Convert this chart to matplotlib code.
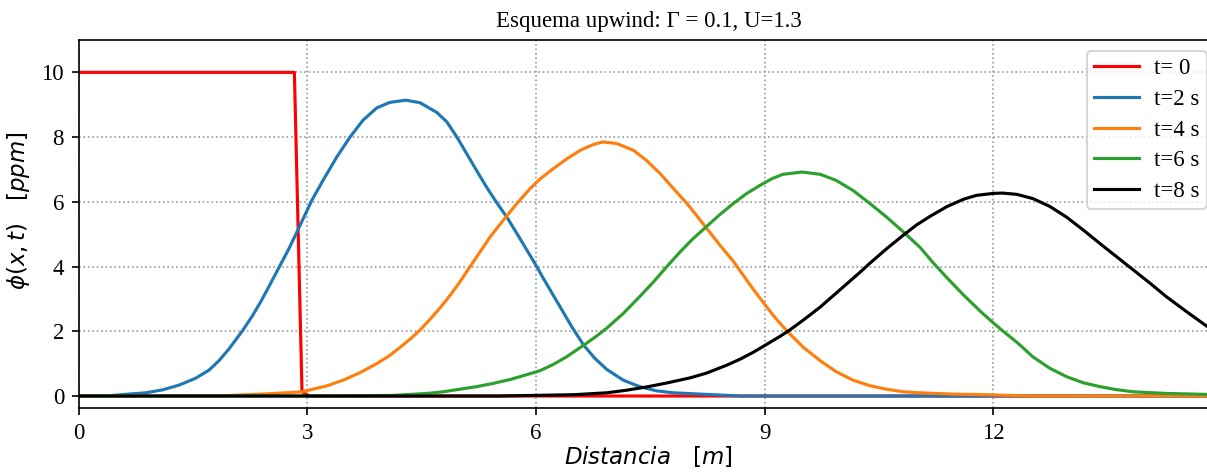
import matplotlib
matplotlib.use("Agg")
import matplotlib.pyplot as plt

plt.rcParams['font.family'] = ['Liberation Serif', 'DejaVu Serif']
plt.rcParams['font.size'] = 11

# Concentration profiles phi(x, t) [ppm] vs distance x [m]
x_t0 = [0.0, 2.83, 2.93, 3.03, 14.95]
phi_t0 = [10.0, 10.0, 0.13, 0.0, 0.0]

x_t2 = [0.0, 0.40, 0.66, 0.88, 1.10, 1.32, 1.535, 1.71, 1.84, 1.97, 2.15, 2.28,
        2.39, 2.50, 2.63, 2.76, 2.87, 2.98, 3.06, 3.21, 3.385, 3.56, 3.73, 3.91,
        4.08, 4.29, 4.48, 4.70, 4.83, 4.96, 5.09, 5.22, 5.35, 5.48, 5.62, 5.75,
        5.88, 6.01, 6.08, 6.18, 6.31, 6.47, 6.62, 6.77, 6.93, 7.145, 7.36, 7.58,
        7.80, 8.24, 8.70, 14.95]
phi_t2 = [0.0, 0.01, 0.06, 0.10, 0.19, 0.34, 0.55, 0.80, 1.09, 1.45, 2.02, 2.48,
          2.92, 3.40, 3.98, 4.56, 5.10, 5.65, 6.05, 6.68, 7.38, 8.00, 8.52, 8.90,
          9.07, 9.14, 9.06, 8.76, 8.47, 8.01, 7.49, 6.97, 6.46, 5.99, 5.52, 5.02,
          4.51, 4.00, 3.70, 3.30, 2.78, 2.14, 1.59, 1.17, 0.82, 0.49, 0.29, 0.16,
          0.10, 0.05, 0.0, 0.0]

x_t4 = [0.0, 1.90, 2.41, 2.72, 2.93, 3.035, 3.25, 3.47, 3.69, 3.91, 4.08, 4.215,
        4.35, 4.48, 4.61, 4.74, 4.87, 5.00, 5.13, 5.265, 5.40, 5.57, 5.75, 5.92,
        6.05, 6.23, 6.40, 6.58, 6.75, 6.88, 7.06, 7.28, 7.45, 7.63, 7.80, 7.98,
        8.11, 8.24, 8.41, 8.59, 8.72, 8.85, 8.98, 9.10, 9.20, 9.33, 9.51, 9.73,
        9.94, 10.16, 10.38, 10.60, 10.82, 11.04, 11.47, 11.91, 12.50, 14.95]
phi_t4 = [0.0, 0.01, 0.06, 0.10, 0.13, 0.19, 0.31, 0.49, 0.72, 1.00, 1.25, 1.50,
          1.76, 2.04, 2.37, 2.72, 3.10, 3.52, 3.98, 4.45, 4.92, 5.43, 5.95, 6.40,
          6.70, 7.03, 7.32, 7.59, 7.77, 7.85, 7.80, 7.59, 7.28, 6.87, 6.42, 5.95,
          5.57, 5.18, 4.67, 4.16, 3.73, 3.30, 2.90, 2.53, 2.25, 1.92, 1.50, 1.09,
          0.75, 0.49, 0.32, 0.21, 0.13, 0.10, 0.06, 0.04, 0.0, 0.0]

x_t6 = [0.0, 3.50, 4.13, 4.57, 4.78, 5.00, 5.22, 5.44, 5.66, 5.88, 6.05, 6.23,
        6.40, 6.62, 6.80, 6.93, 7.145, 7.36, 7.54, 7.71, 7.89, 8.06, 8.24, 8.41,
        8.59, 8.76, 8.94, 9.10, 9.24, 9.49, 9.73, 9.94, 10.16, 10.38, 10.60,
        10.82, 11.04, 11.21, 11.39, 11.61, 11.83, 12.00, 12.12, 12.31, 12.52,
        12.74, 12.96, 13.18, 13.40, 13.62, 13.84, 14.27, 14.80, 14.95]
phi_t6 = [0.0, 0.0, 0.02, 0.08, 0.13, 0.21, 0.29, 0.39, 0.51, 0.66, 0.78, 0.98,
          1.21, 1.56, 1.86, 2.10, 2.55, 3.07, 3.52, 3.98, 4.45, 4.86, 5.24, 5.60,
          5.95, 6.25, 6.51, 6.72, 6.85, 6.92, 6.85, 6.66, 6.35, 5.95, 5.53, 5.07,
          4.59, 4.12, 3.66, 3.12, 2.62, 2.26, 2.02, 1.66, 1.21, 0.86, 0.60, 0.41,
          0.29, 0.195, 0.13, 0.08, 0.05, 0.04]

x_t8 = [0.0, 5.50, 6.00, 6.49, 6.93, 7.19, 7.45, 7.71, 8.02, 8.24, 8.50, 8.68,
        8.85, 8.98, 9.10, 9.20, 9.33, 9.51, 9.73, 9.90, 10.08, 10.25, 10.38,
        10.60, 10.82, 10.99, 11.17, 11.39, 11.61, 11.78, 12.00, 12.12, 12.31,
        12.52, 12.74, 12.96, 13.18, 13.40, 13.62, 13.84, 14.06, 14.27, 14.54,
        14.80, 14.95]
phi_t8 = [0.0, 0.0, 0.02, 0.04, 0.10, 0.18, 0.28, 0.40, 0.56, 0.71, 0.95, 1.14,
          1.35, 1.53, 1.70, 1.84, 2.04, 2.35, 2.75, 3.10, 3.47, 3.82, 4.10, 4.55,
          4.97, 5.28, 5.55, 5.85, 6.08, 6.20, 6.26, 6.27, 6.23, 6.10, 5.86, 5.53,
          5.13, 4.71, 4.30, 3.89, 3.48, 3.07, 2.60, 2.16, 1.91]

labels = ["t= 0", "t=2 s", "t=4 s", "t=6 s", "t=8 s"]
colors = ["red", "tab:blue", "tab:orange", "tab:green", "black"]
series = [(x_t0, phi_t0), (x_t2, phi_t2), (x_t4, phi_t4),
          (x_t6, phi_t6), (x_t8, phi_t8)]

fig = plt.figure(figsize=(1207 / 150, 472 / 150), dpi=150)
ax = fig.add_axes([0.0652, 0.1356, 0.944, 0.7797])

for (xs, ys), lab, col in zip(series, labels, colors):
    ax.plot(xs, ys, color=col, lw=1.5, label=lab)

ax.set_xlim(0, 14.95)
ax.set_ylim(-0.37, 11.0)
ax.set_xticks([0, 3, 6, 9, 12])
ax.set_yticks([0, 2, 4, 6, 8, 10])
ax.grid(True, linestyle=':', color='0.6', lw=0.8)
ax.set_title("Esquema upwind: Γ = 0.1, U=1.3", fontsize=11)
ax.set_xlabel(r"$Distancia \quad [m]$", fontsize=11, labelpad=0)
ax.set_ylabel(r"$\phi(x,t) \quad [ppm]$", fontsize=11)
ax.yaxis.set_label_coords(-0.041, 0.535)
ax.legend(loc='upper right', fontsize=11, handlelength=2.0,
          handletextpad=0.65, borderpad=0.3, labelspacing=0.42)

fig.savefig("out.png", dpi=150)
